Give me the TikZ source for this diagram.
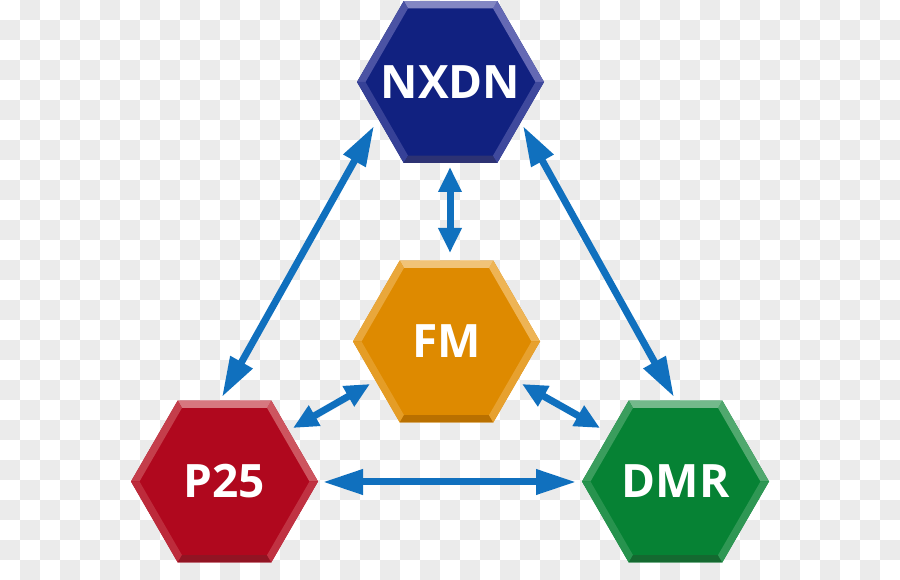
\documentclass[tikz,border=0pt]{standalone}
\usepackage{fontspec}
\setmainfont{Open Sans}
\usetikzlibrary{shapes.geometric,arrows.meta,calc}
\definecolor{bgGray}{RGB}{235,235,235}
\definecolor{arrowBlue}{RGB}{16,112,190}
\definecolor{nxdnMain}{RGB}{17,33,128}
\definecolor{nxdnLight}{RGB}{100,105,180}
\definecolor{nxdnDark}{RGB}{45,50,115}
\definecolor{fmMain}{RGB}{222,138,0}
\definecolor{fmLight}{RGB}{238,180,85}
\definecolor{fmDark}{RGB}{185,112,0}
\definecolor{p25Main}{RGB}{176,8,30}
\definecolor{p25Light}{RGB}{205,85,95}
\definecolor{p25Dark}{RGB}{145,20,35}
\definecolor{dmrMain}{RGB}{6,130,52}
\definecolor{dmrLight}{RGB}{80,168,110}
\definecolor{dmrDark}{RGB}{20,105,48}
\tikzset{
  hexa/.style={regular polygon, regular polygon sides=6, minimum size=187pt,
    inner sep=0pt, outer sep=0pt, text=white,
    font=\fontsize{46}{50}\selectfont\bfseries},
  biarrow/.style={line width=7pt, draw=arrowBlue,
    {Triangle[length=40pt,width=24pt]}-{Triangle[length=40pt,width=24pt]}},
  shortarrow/.style={line width=7pt, draw=arrowBlue,
    {Triangle[length=25pt,width=22pt]}-{Triangle[length=25pt,width=22pt]}},
}
\newcommand{\hexbevel}[4]{%
  \foreach \ang/\fc in {0/{#2}, 60/{#2!80!white}, 120/{#2!70!#3}, 180/{#2!45!#3}, 240/{#4}, 300/{#2!55!#3}}{
    \fill[\fc] ($(#1.center)+(\ang:93.5pt)$) -- ($(#1.center)+(\ang+60:93.5pt)$)
      -- ($(#1.center)+(\ang+60:85pt)$) -- ($(#1.center)+(\ang:85pt)$) -- cycle;
  }}
\begin{document}
\begin{tikzpicture}[x=1pt,y=1pt]
\useasboundingbox (0,0) rectangle (900,580);
\fill[white] (0,0) rectangle (900,580);
\foreach \i in {0,...,44}{\foreach \j in {0,...,28}{
  \pgfmathtruncatemacro\odd{mod(\i+\j,2)}
  \ifnum\odd=1 \fill[bgGray] (20*\i,560-20*\j) rectangle ++(20,20); \fi
}}
\node[hexa, fill=nxdnMain] (nxdn) at (450.5,498) {\makebox[0pt]{NXDN}};
\node[hexa, fill=fmMain] (fm) at (446.5,238.5) {\makebox[0pt]{FM}};
\node[hexa, fill=p25Main] (p25) at (224.5,98.5) {\makebox[0pt]{P25}};
\node[hexa, fill=dmrMain] (dmr) at (675.5,98.5) {\makebox[0pt]{DMR}};
\hexbevel{nxdn}{nxdnLight}{nxdnMain}{nxdnDark}
\hexbevel{fm}{fmLight}{fmMain}{fmDark}
\hexbevel{p25}{p25Light}{p25Main}{p25Dark}
\hexbevel{dmr}{dmrLight}{dmrMain}{dmrDark}
\draw[biarrow] ($(p25.center)+(-2.5,84.5)$) -- ($(nxdn.center)+(-76.5,-44)$);
\draw[biarrow] ($(nxdn.center)+(72.5,-44)$) -- ($(dmr.center)+(-1.5,84.5)$);
\draw[biarrow] ($(p25.center)+(98.5,-0.5)$) -- ($(dmr.center)+(-99.5,-0.5)$);
\draw[shortarrow] ($(nxdn.center)+(-0.5,-85)$) -- ($(fm.center)+(3.5,88.5)$);
\draw[shortarrow] ($(fm.center)+(-76.5,-42.5)$) -- ($(p25.center)+(68.5,53.5)$);
\draw[shortarrow] ($(fm.center)+(75.5,-42.5)$) -- ($(dmr.center)+(-75.5,53.5)$);
\end{tikzpicture}
\end{document}
